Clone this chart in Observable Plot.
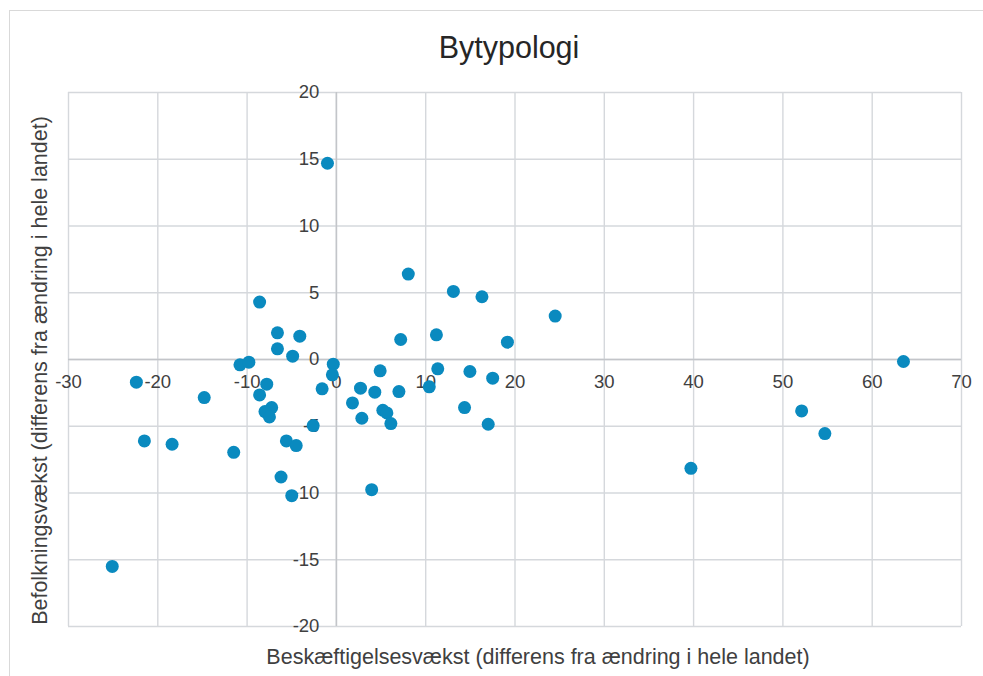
<!DOCTYPE html>
<html>
<head>
<meta charset="utf-8">
<script src="https://cdn.jsdelivr.net/npm/d3@7"></script>
<script src="https://cdn.jsdelivr.net/npm/@observablehq/plot@0.6"></script>
<style>
  html, body { margin: 0; padding: 0; background: #fff; }
  #wrap { position: relative; width: 983px; height: 676px; overflow: hidden; font-family: "Liberation Sans", Arial, sans-serif; }
  #frame { position: absolute; left: 9px; top: 10px; width: 990px; height: 700px; border-top: 1.5px solid #d9d9d9; border-left: 1.5px solid #d9d9d9; box-sizing: border-box; pointer-events: none; }
  #title { position: relative; height: 70px; }
  #title span { position: absolute; left: 509px; top: 32px; transform: translateX(-50%); font-size: 30.5px; line-height: 30px; color: #262626; white-space: nowrap; }
  svg { display: block; }
</style>
</head>
<body>
<div id="wrap">
  <div id="frame"></div>
  <div id="title"><span>Bytypologi</span></div>
  <div id="chart"></div>
</div>
<script>
const titleText = "Bytypologi";
const xLabel = "Beskæftigelsesvækst (differens fra ændring i hele landet)";
const yLabel = "Befolkningsvækst (differens fra ændring i hele landet)";

const xTicks = [-30, -20, -10, 0, 10, 20, 30, 40, 50, 60, 70];
const yTicks = [-20, -15, -10, -5, 0, 5, 10, 15, 20];

// Employment growth (x) and population growth (y), differences from national change
const employment = [
  -1.0, -8.6, -6.6, -4.1, -6.6, -4.9, -10.8, -9.8, -0.35, -0.45,
  -22.4, -14.8, -7.8, -8.6, -1.6, -7.25, -8.0, -7.5, -21.5, -18.4,
  -11.5, -5.6, -4.5, -6.2, -5.0, -25.1, -2.6,
  8.05, 13.1, 16.3, 24.5, 11.2, 7.2, 19.15, 4.9, 11.35, 14.95, 17.5,
  2.7, 4.3, 7.0, 10.4, 1.8, 2.85, 5.2, 5.65, 6.1, 14.35, 17.0, 3.95,
  63.5, 52.1, 54.7, 39.7
];
const population = [
  14.7, 4.3, 2.0, 1.75, 0.8, 0.25, -0.4, -0.2, -0.35, -1.15,
  -1.7, -2.85, -1.85, -2.65, -2.2, -3.6, -3.9, -4.3, -6.1, -6.35,
  -6.95, -6.1, -6.45, -8.8, -10.2, -15.5, -4.95,
  6.4, 5.1, 4.7, 3.25, 1.85, 1.5, 1.3, -0.85, -0.7, -0.9, -1.4,
  -2.15, -2.45, -2.4, -2.05, -3.25, -4.4, -3.8, -4.0, -4.8, -3.6, -4.85, -9.75,
  -0.15, -3.85, -5.55, -8.15
];

const data = employment.map((x, i) => ({x, y: population[i]}));

const gridColor = "#d5d8dc";
const axisColor = "#c3c5c9";
const textColor = "#404040";
const dotColor = "#0a8abf";

const chart = Plot.plot({
  width: 983,
  height: 606,
  marginLeft: 68,
  marginRight: 22,
  marginTop: 22,
  marginBottom: 50,
  x: {domain: [-30, 70], axis: null},
  y: {domain: [-20, 20], axis: null},
  style: {fontFamily: "'Liberation Sans', Arial, sans-serif", fontSize: "18px", color: textColor, background: "transparent"},
  marks: [
    Plot.ruleX(xTicks, {stroke: gridColor, strokeWidth: 1.4}),
    Plot.ruleY(yTicks, {stroke: gridColor, strokeWidth: 1.4}),
    Plot.ruleX([0], {stroke: axisColor, strokeWidth: 1.5}),
    Plot.ruleY([0], {stroke: axisColor, strokeWidth: 1.5}),
    Plot.text(xTicks, {x: d => d, y: 0, dy: 23, text: d => String(d), fill: textColor, fontSize: 18.5}),
    Plot.text(yTicks, {x: 0, y: d => d, dx: -17, textAnchor: "end", text: d => String(d), fill: textColor, fontSize: 18.5}),
    Plot.dot(data, {x: "x", y: "y", r: 6.5, fill: dotColor, stroke: "none"}),
    Plot.text([xLabel], {frameAnchor: "bottom", textAnchor: "middle", dx: 23, dy: 37, lineAnchor: "bottom", text: d => d, fill: textColor, fontSize: 21.5}),
    Plot.text([yLabel], {frameAnchor: "left", textAnchor: "middle", lineAnchor: "middle", dx: -28, dy: 11, rotate: -90, text: d => d, fill: textColor, fontSize: 21.5})
  ]
});
document.getElementById("chart").appendChild(chart);
</script>
</body>
</html>
